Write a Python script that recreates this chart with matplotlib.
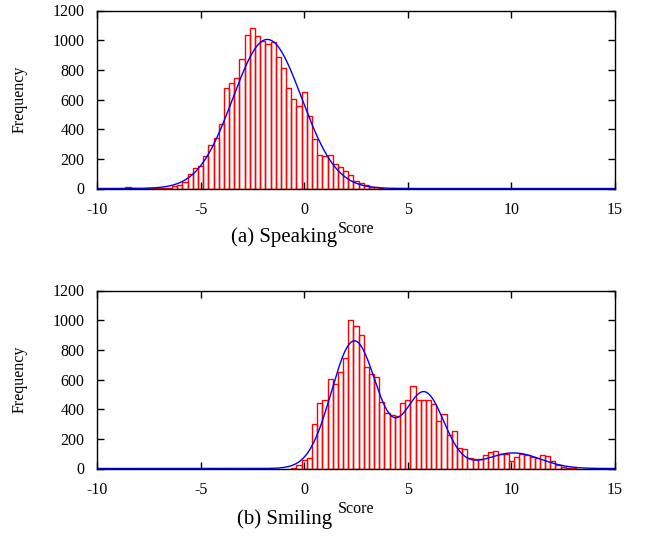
import numpy as np
import matplotlib
matplotlib.use('Agg')
import matplotlib.pyplot as plt

plt.rcParams['font.family'] = ['Liberation Serif', 'DejaVu Serif']

# histogram bins: 0.25 wide, first bin centre given
bin_width = 0.25

speak_start = -8.75
speak_counts = [0, 7, 6, 0, 0, 1, 1, 2, 3, 5, 16, 22, 44, 95, 140, 150,
                220, 290, 343, 437, 675, 711, 748, 876, 1037, 1085, 1027,
                994, 976, 987, 886, 815, 677, 603, 559, 653, 489, 332, 224,
                217, 226, 164, 146, 119, 88, 51, 34, 22, 13, 8, 4]

smile_start = -0.5
smile_counts = [5, 22, 55, 74, 298, 442, 465, 606, 570, 651, 745, 1001, 958,
                902, 682, 637, 615, 449, 373, 364, 352, 440, 463, 554, 463,
                462, 463, 435, 318, 368, 229, 251, 139, 132, 72, 63, 67, 92,
                113, 117, 99, 96, 49, 76, 96, 90, 79, 72, 94, 81, 52, 22, 9,
                5, 3]

# fitted gaussian components (amplitude, mean, sigma)
speak_fit = [(1005, -1.78, 1.66)]
smile_fit = [(860, 2.42, 1.1), (510, 5.8, 0.95), (105, 10.1, 1.3)]

xticks = [-10, -5, 0, 5, 10, 15]
yticks = [0, 200, 400, 600, 800, 1000, 1200]


def mixture(x, comps):
    y = np.zeros_like(x)
    for a, m, s in comps:
        y += a * np.exp(-(x - m) ** 2 / (2 * s ** 2))
    return y


def draw_panel(ax, start, counts, comps):
    centers = start + bin_width * np.arange(len(counts))
    ax.bar(centers, counts, width=bin_width, fill=False, edgecolor='red',
           linewidth=1.0)
    xs = np.linspace(-10, 15, 600)
    ax.plot(xs, mixture(xs, comps), color='blue', linewidth=1.0)
    ax.set_xlim(-10, 15)
    ax.set_ylim(0, 1200)
    ax.set_xticks(xticks)
    ax.set_yticks(yticks)
    ax.set_xticklabels([str(t) for t in xticks])
    ax.tick_params(direction='in', top=True, right=True, length=5, width=1,
                   labelsize=11.5)
    ax.tick_params(axis='x', pad=10)
    ax.tick_params(axis='y', pad=9)
    ax.set_xlabel('Score', fontsize=11.5, labelpad=2)
    ax.set_ylabel('Frequency', fontsize=11.5, labelpad=18)
    for sp in ax.spines.values():
        sp.set_linewidth(1.0)


fig = plt.figure(figsize=(6.46, 5.6), dpi=100)
ax1 = fig.add_axes([97 / 646, 1 - 188.5 / 560, 518 / 646, 178 / 560])
ax2 = fig.add_axes([97 / 646, 1 - 468.5 / 560, 518 / 646, 178 / 560])

draw_panel(ax1, speak_start, speak_counts, speak_fit)
draw_panel(ax2, smile_start, smile_counts, smile_fit)

fig.text(284 / 646, 1 - 237 / 560, '(a) Speaking', ha='center', va='center',
         fontsize=15)
fig.text(285 / 646, 1 - 519 / 560, '(b) Smiling', ha='center', va='center',
         fontsize=15)

fig.savefig('out.png', dpi=100)
